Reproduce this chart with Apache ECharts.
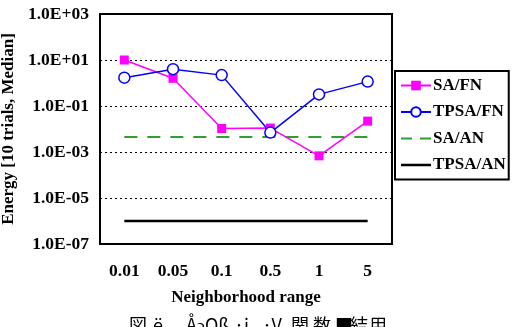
<!DOCTYPE html>
<html>
<head>
<meta charset="utf-8">
<script src="https://cdn.jsdelivr.net/npm/echarts@6/dist/echarts.min.js"></script>
<style>
  html, body { margin: 0; padding: 0; background: #fff; }
  #chart { width: 514px; height: 327px; }
</style>
</head>
<body>
<div id="chart"></div>
<script>
var categories = ['0.01', '0.05', '0.1', '0.5', '1', '5'];
var saFN = [10, 1.6, 0.0105, 0.011, 0.00068, 0.022];
var tpsaFN = [1.7, 4, 2.2, 0.007, 0.32, 1.15];
var saAN = [0.0045, 0.0045, 0.0045, 0.0045, 0.0045, 0.0045];
var tpsaAN = [1e-6, 1e-6, 1e-6, 1e-6, 1e-6, 1e-6];
// 下端のキャプション（文字化けしたまま、切れている）
var captionParts = ['図', 'ё', 'Å', 'ɔOß', '·i', '·V', '関', '数', '■', '結', '用'];
var captionX = [129, 153, 186, 197, 234, 262, 291, 313, 335, 350, 369];

var serif = '"Liberation Serif", "Times New Roman", serif';

// 凡例用の線アイコン
var solidIcon = 'path://M0,0L30,0L30,2.5L0,2.5Z';
var dashIcon = 'path://M0,0L11,0L11,2L0,2Z M19,0L30,0L30,2L19,2Z';

// 1.0E+03 形式のラベル
function sciLabel(v) {
    var e = Math.round(Math.log10(v));
    var s = Math.abs(e) < 10 ? '0' + Math.abs(e) : '' + Math.abs(e);
    return '1.0E' + (e >= 0 ? '+' : '-') + s;
}

var captionGraphics = captionParts.map(function (t, i) {
    return {
        type: 'text',
        left: captionX[i], top: 316,
        style: { text: t, fontSize: 18, fill: '#000', fontFamily: '"Noto Sans CJK JP", ' + serif }
    };
});

var chart = echarts.init(document.getElementById('chart'));
chart.setOption({
    animation: false,
    grid: {
        left: 100, right: 122, top: 14, bottom: 83,
        outerBoundsMode: 'none',
        show: true, borderColor: '#000', borderWidth: 2
    },
    legend: {
        orient: 'vertical',
        left: 395, top: 71,
        padding: [6, 3, 6, 5],
        itemWidth: 30,
        itemHeight: 12,
        itemGap: 9.5,
        symbolKeepAspect: true,
        borderColor: '#000',
        borderWidth: 2,
        textStyle: { fontFamily: serif, fontWeight: 'bold', fontSize: 17, color: '#000', padding: [0, 0, 0, -3] },
        data: [
            { name: 'SA/FN' },
            { name: 'TPSA/FN' },
            { name: 'SA/AN', icon: dashIcon },
            { name: 'TPSA/AN', icon: solidIcon }
        ]
    },
    xAxis: {
        type: 'category',
        data: categories,
        name: 'Neighborhood range',
        nameLocation: 'middle',
        nameGap: 45,
        nameTextStyle: { fontFamily: serif, fontWeight: 'bold', fontSize: 17, color: '#000' },
        axisLine: { lineStyle: { color: '#000', width: 2 } },
        axisTick: { inside: true, length: 4, lineStyle: { color: '#000' } },
        axisLabel: { fontFamily: serif, fontWeight: 'bold', fontSize: 17.5, color: '#000', margin: 18 },
        splitLine: { show: false }
    },
    yAxis: {
        type: 'log',
        logBase: 10,
        min: 1e-7,
        max: 1e3,
        interval: 2,
        name: 'Energy [10 trials, Median]',
        nameLocation: 'middle',
        nameGap: 79,
        nameTextStyle: { fontFamily: serif, fontWeight: 'bold', fontSize: 17, color: '#000' },
        axisLine: { show: true, lineStyle: { color: '#000', width: 2 } },
        axisTick: { show: false },
        axisLabel: { fontFamily: serif, fontWeight: 'bold', fontSize: 17.5, color: '#000', margin: 11, formatter: sciLabel },
        splitLine: { show: true, lineStyle: { color: '#000', type: [2, 3], width: 1.2 } },
        minorTick: { show: false }
    },
    series: [
        {
            name: 'SA/FN', type: 'line', data: saFN,
            symbol: 'rect', symbolSize: 9,
            lineStyle: { color: '#ff00ff', width: 1.5 },
            itemStyle: { color: '#ff00ff' }
        },
        {
            name: 'TPSA/FN', type: 'line', data: tpsaFN,
            symbol: 'circle', symbolSize: 11,
            lineStyle: { color: '#0000ff', width: 1.5 },
            itemStyle: { color: '#fff', borderColor: '#0000ff', borderWidth: 1.5 }
        },
        {
            name: 'SA/AN', type: 'line', data: saAN,
            symbol: 'none', z: 1,
            lineStyle: { color: '#2ea02e', width: 2, type: [13, 10] },
            itemStyle: { color: '#2ea02e' }
        },
        {
            name: 'TPSA/AN', type: 'line', data: tpsaAN,
            symbol: 'none',
            lineStyle: { color: '#000', width: 2.5 },
            itemStyle: { color: '#000' }
        }
    ],
    graphic: captionGraphics
});

window.addEventListener('resize', function () {
    chart.resize();
});
</script>
</body>
</html>
